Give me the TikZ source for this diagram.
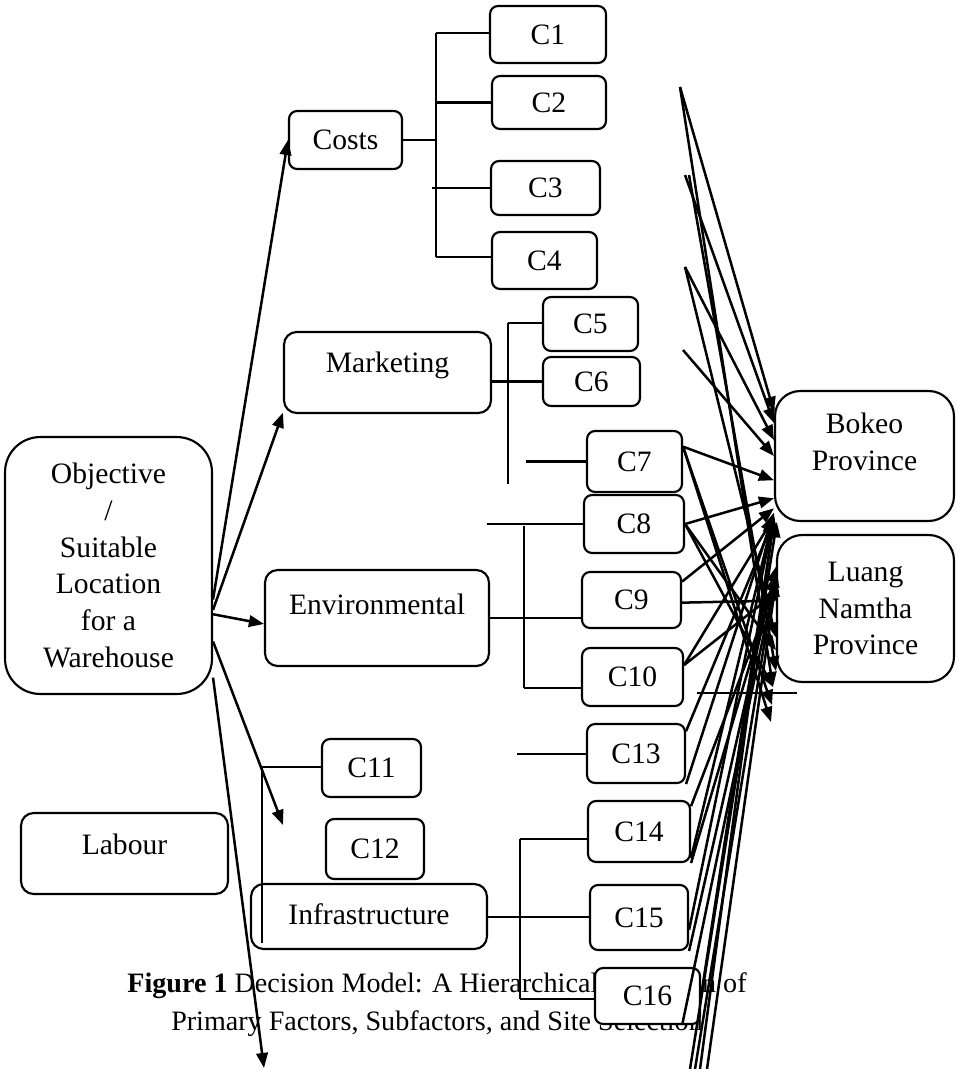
\documentclass[tikz,border=0pt]{standalone}
\usepackage{fontspec}
\setmainfont{Liberation Serif}
\usepackage{tikz}
\usetikzlibrary{positioning, arrows.meta, calc}
\newcommand{\pxl}{0.3984pt}
\tikzstyle{block} = [draw, fill=white, line width=0.85pt, align=center,
    inner sep=0pt, rounded corners=3.2pt]
\tikzstyle{factor} = [block, rounded corners=5pt]
\tikzstyle{site} = [block, rounded corners=10pt]
\tikzstyle{bus} = [line width=0.8pt]
\tikzstyle{pointer} = [line width=1pt, -{Triangle[length=6pt,width=4.6pt]}]
\tikzset{boxsize/.style 2 args={minimum width=#1*\pxl, minimum height=#2*\pxl}}

\begin{document}
\begin{tikzpicture}[x={(0.014cm,0)}, y={(0,-0.014cm)},
        font=\fontsize{11.8}{14.7}\selectfont]
    \useasboundingbox (0,0) rectangle (959,1069);

    % caption first, the boxes sit on top of it
    \node[font=\fontsize{11.2}{15.1}\selectfont, align=center] (caption) at (437,1005)
        {\textbf{Figure 1} Decision Model: A Hierarchical Depiction of\\
         Primary Factors, Subfactors, and Site Selection};

    \node[block, rounded corners=14pt, boxsize={207}{257}] (goal) at (108.5,565.5)
        {Objective\\/\\Suitable\\Location\\for a\\Warehouse};

    % primary factors
    \node[block, boxsize={113}{58}] (costs) at (345.5,140) {Costs};
    \node[factor, boxsize={207}{81},
        label={[yshift=7.5*\pxl]center:Marketing}] (marketing) at (387.5,372.5) {};
    \node[factor, boxsize={224}{96},
        label={[yshift=14*\pxl]center:Environmental}] (environmental) at (377,618) {};
    \node[factor, boxsize={207}{81},
        label={[yshift=9.5*\pxl]center:Labour}] (labour) at (124.5,853.5) {};
    \node[factor, boxsize={236}{65},
        label={[yshift=2.5*\pxl]center:Infrastructure}] (infrastructure) at (369,916.5) {};

    % subfactors
    \node[block, boxsize={116}{57}] (c1) at (548,34.5) {C1};
    \node[block, boxsize={114}{53}] (c2) at (549,102.5) {C2};
    \node[block, boxsize={109}{54}] (c3) at (545.5,188) {C3};
    \node[block, boxsize={105}{57}] (c4) at (544.5,260.5) {C4};
    \node[block, boxsize={95}{54}] (c5) at (590.5,324) {C5};
    \node[block, boxsize={97}{49}] (c6) at (591.5,381.5) {C6};
    \node[block, boxsize={95}{61}] (c7) at (634.5,461.5) {C7};
    \node[block, boxsize={100}{58}] (c8) at (634,524) {C8};
    \node[block, boxsize={99}{56}] (c9) at (631.5,600) {C9};
    \node[block, boxsize={101}{58}] (c10) at (632.5,677) {C10};
    \node[block, boxsize={99}{58}] (c11) at (371.5,768) {C11};
    \node[block, boxsize={98}{60}] (c12) at (375,849) {C12};
    \node[block, boxsize={98}{59}] (c13) at (636,753.5) {C13};
    \node[block, boxsize={102}{61}] (c14) at (639,831.5) {C14};
    \node[block, boxsize={98}{65}] (c15) at (639,917.5) {C15};
    \node[block, boxsize={105}{56}] (c16) at (647.5,996) {C16};

    % sites
    \node[site, boxsize={179}{130},
        label={[align=center, yshift=14.5*\pxl]center:Bokeo\\Province}] (bokeo) at (864.5,456) {};
    \node[site, boxsize={177}{147}] (luang) at (865.5,608.5) {Luang\\Namtha\\Province};

    % costs branch
    \coordinate (costbus top) at (436,33);
    \coordinate (costbus bottom) at (436,257);
    \draw[bus] (costs.east) -- (costs.east -| costbus top);
    \draw[bus] (costbus top) -- (costbus bottom);
    \draw[bus] (costbus top) -- (costbus top -| c1.west);
    \draw[bus] (c2.west -| costbus top) -- (c2.west);
    \draw[bus] (c3.west) -- ++(-58,0);
    \draw[bus] (costbus bottom) -- (costbus bottom -| c4.west);

    % marketing branch
    \coordinate (mktbus top) at (508,323);
    \coordinate (mktbus bottom) at (508,484);
    \draw[bus] (mktbus top) -- (mktbus bottom);
    \draw[bus] (mktbus top) -- (mktbus top -| c5.west);
    \draw[bus] (c6.west -| marketing.east) -- (c6.west);
    \draw[bus] (c7.west) -- ++(-60,0);

    % environmental branch
    \coordinate (envbus top) at (524,526);
    \coordinate (envbus bottom) at (524,688);
    \draw[bus] (c8.west) -- ++(-96,0);
    \draw[bus] (envbus top) -- (envbus bottom);
    \draw[bus] (envbus bottom) -- (envbus bottom -| c10.west);
    \draw[bus] (environmental.east) -- (environmental.east -| c9.west);
    \draw[bus] (c13.west) -- ++(-69,0);

    % infrastructure branch
    \coordinate (infbus top) at (520,839);
    \coordinate (infbus bottom) at (520,999);
    \draw[bus] (infbus top) -- (infbus top -| c14.west);
    \draw[bus] (infbus top) -- (infbus bottom);
    \draw[bus] (infbus bottom) -- (infbus bottom -| c16.west);
    \draw[bus] (infrastructure.east) -- (infrastructure.east -| c15.west);

    \coordinate (labbus top) at (262,767);
    \coordinate (labbus bottom) at (262,943);
    \draw[bus] (labbus top) -- (labbus bottom);
    \draw[bus] (labbus top) -- (labbus top -| c11.west);

    \coordinate (stray left) at (697,693);
    \coordinate (stray right) at (797,693);
    \draw[bus] (stray left) -- (stray right);

    % objective to factors
    \coordinate (infra tip) at (283,825);
    \coordinate (labour tip) at (264,1068);
    \draw[pointer] (goal.-18) -- (costs.west);
    \draw[pointer] (goal.-23) -- (marketing.-159);
    \draw[pointer] (goal.-25) -- (environmental.-177);
    \draw[pointer] (goal.-36) -- (infra tip);
    \draw[pointer] (goal.-47) -- (labour tip);

    % subfactors to sites
    \coordinate (top a) at (680,87);
    \coordinate (top b) at (685,175);
    \coordinate (top c) at (689,175);
    \coordinate (top d) at (685,267);
    \coordinate (top e) at (683,350);
    \coordinate (low a) at (773,687);
    \coordinate (low b) at (772,705);
    \coordinate (low c) at (771,722);
    \coordinate (foot a) at (690,1069);
    \coordinate (foot b) at (695,1069);
    \coordinate (foot c) at (700,1069);
    \coordinate (foot d) at (707,1069);

    \draw[pointer] (top a) -- (bokeo.154);
    \draw[pointer] (top a) -- (low a);
    \draw[pointer] (top b) -- (bokeo.160);
    \draw[pointer] (top c) -- (luang.215);
    \draw[pointer] (top d) -- (bokeo.170);
    \draw[pointer] (top d) -- (luang.198);
    \draw[pointer] (top e) -- (bokeo.180);

    \draw[pointer] (c7.17) -- (bokeo.195);
    \draw[pointer] (c7.17) -- (low b);
    \draw[pointer] (c7.17) -- (low c);
    \draw[pointer] (c8.east) -- (bokeo.205);
    \draw[pointer] (c8.east) -- (low a);
    \draw[pointer] (c8.east) -- (luang.205);
    \draw[pointer] (c9.20) -- (bokeo.210);
    \draw[pointer] (c9.-3) -- (luang.175);
    \draw[pointer] (c10.13) -- (bokeo.214);
    \draw[pointer] (c10.13) -- (luang.170);
    \draw[pointer] (c13.24) -- (bokeo.215);
    \draw[pointer] (c13.south east) -- (bokeo.212);
    \draw[pointer] (c14.26) -- (luang.165);
    \draw[pointer] (c14.-27) -- (bokeo.213);
    \draw[pointer] (c14.south east) -- (luang.160);
    \draw[pointer] (c15.-14) -- (bokeo.214);
    \draw[pointer] (c15.south east) -- (luang.155);
    \draw[pointer] (c16.east) -- (bokeo.216);
    \draw[pointer] (c16.-40) -- (luang.160);
    \draw[pointer] (foot a) -- (bokeo.217);
    \draw[pointer] (foot b) -- (luang.158);
    \draw[pointer] (foot c) -- (bokeo.214);
    \draw[pointer] (foot d) -- (luang.163);
\end{tikzpicture}
\end{document}
